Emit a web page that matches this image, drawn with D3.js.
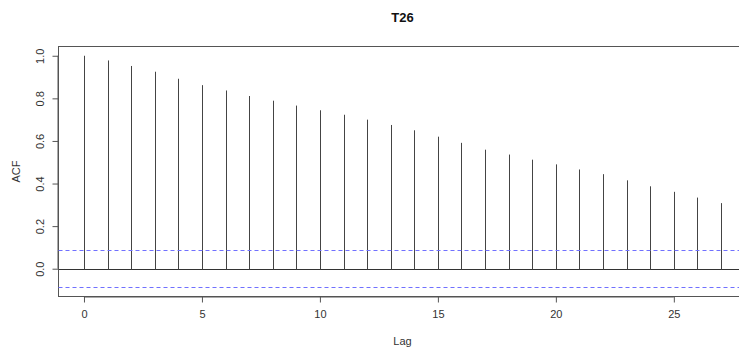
<!DOCTYPE html>
<html>
<head>
<meta charset="utf-8">
<script src="https://cdn.jsdelivr.net/npm/d3@7"></script>
<style>
  body { margin: 0; background: #fff; }
  svg { display: block; font-family: "Liberation Sans", Arial, sans-serif; }
</style>
</head>
<body>
<div id="chart"></div>
<script>
// ACF of series T26, lags 0..27
const lags = d3.range(0, 28);
const acfValues = [1.000, 0.978, 0.952, 0.925, 0.892, 0.862, 0.837, 0.811,
                   0.789, 0.766, 0.744, 0.723, 0.700, 0.675, 0.650, 0.620,
                   0.591, 0.559, 0.536, 0.512, 0.490, 0.466, 0.444, 0.415,
                   0.387, 0.361, 0.334, 0.308];
const ciBounds = [0.087, -0.087];
const xTicks = [0, 5, 10, 15, 20, 25];
const yTicks = [0.0, 0.2, 0.4, 0.6, 0.8, 1.0];
const title = "T26";

const width = 739, height = 350;
// plot box (right side runs off the picture like the reference)
const box = { left: 58.5, right: 746.5, top: 46.5, bottom: 296.5 };

// R style 4% axis expansion
const xr = [0, 27], xpad = (xr[1] - xr[0]) * 0.04;
const yr = [ciBounds[1], 1.0], ypad = (yr[1] - yr[0]) * 0.04;

const x = d3.scaleLinear().domain([xr[0] - xpad, xr[1] + xpad]).range([box.left, box.right]);
const y = d3.scaleLinear().domain([yr[0] - ypad, yr[1] + ypad]).range([box.bottom, box.top]);

const svg = d3.select('#chart').append('svg')
    .attr('width', width)
    .attr('height', height);

// zero line
svg.append('line')
    .attr('x1', box.left).attr('x2', box.right)
    .attr('y1', Math.round(y(0)) + 0.5).attr('y2', Math.round(y(0)) + 0.5)
    .attr('stroke', '#333');

// acf spikes
svg.selectAll('line.spike')
    .data(lags)
    .enter().append('line')
    .attr('class', 'spike')
    .attr('x1', d => Math.round(x(d)) + 0.5)
    .attr('x2', d => Math.round(x(d)) + 0.5)
    .attr('y1', Math.round(y(0)) + 0.5)
    .attr('y2', (d, i) => y(acfValues[i]))
    .attr('stroke', '#444')
    .attr('stroke-width', 1);

// box
svg.append('rect')
    .attr('x', box.left).attr('y', box.top)
    .attr('width', box.right - box.left).attr('height', box.bottom - box.top)
    .attr('fill', 'none')
    .attr('stroke', '#555');

// x axis
const xAxis = d3.axisBottom(x).tickValues(xTicks).tickSize(6).tickPadding(8)
    .tickFormat(d3.format('d'));
const gx = svg.append('g')
    .attr('transform', 'translate(0,' + box.bottom + ')')
    .call(xAxis);
gx.select('.domain')
    .attr('d', 'M' + x(xTicks[0]) + ',0.5H' + x(xTicks[xTicks.length - 1]))
    .attr('stroke', '#555');
gx.selectAll('.tick line').attr('stroke', '#555');
gx.selectAll('text').attr('fill', '#333').style('font-size', '11px')
    .style('font-family', '"Liberation Sans", Arial, sans-serif');

// y axis with rotated labels
const yAxis = d3.axisLeft(y).tickValues(yTicks).tickSize(6).tickFormat(d3.format('.1f'));
const gy = svg.append('g')
    .attr('transform', 'translate(' + box.left + ',0)')
    .call(yAxis);
gy.select('.domain')
    .attr('d', 'M-0.5,' + y(yTicks[0]) + 'V' + y(yTicks[yTicks.length - 1]))
    .attr('stroke', '#555');
gy.selectAll('.tick line').attr('stroke', '#555');
gy.selectAll('text')
    .attr('x', null).attr('dy', null)
    .attr('fill', '#333')
    .style('font-size', '11px')
    .style('font-family', '"Liberation Sans", Arial, sans-serif')
    .attr('text-anchor', 'middle')
    .attr('transform', 'translate(-15,0) rotate(-90)');

// confidence bounds (blue dashed), drawn last
svg.selectAll('path.ci')
    .data(ciBounds)
    .enter().append('path')
    .attr('class', 'ci')
    .attr('d', d => 'M' + box.left + ',' + (Math.round(y(d)) + 0.5) + 'H' + box.right)
    .attr('fill', 'none')
    .attr('stroke', '#7070ff')
    .attr('stroke-width', 1.2)
    .attr('stroke-dasharray', '4,3');

// title and axis labels
svg.append('text')
    .attr('x', (box.left + box.right) / 2).attr('y', 22)
    .attr('text-anchor', 'middle')
    .attr('font-weight', 'bold')
    .attr('font-size', 13)
    .attr('fill', '#111')
    .text(title);

svg.append('text')
    .attr('x', (box.left + box.right) / 2).attr('y', 345)
    .attr('text-anchor', 'middle')
    .attr('font-size', 11)
    .attr('fill', '#333')
    .text('Lag');

svg.append('text')
    .attr('transform', 'translate(20,' + (box.top + box.bottom) / 2 + ') rotate(-90)')
    .attr('text-anchor', 'middle')
    .attr('font-size', 11)
    .attr('fill', '#333')
    .text('ACF');
</script>
</body>
</html>
